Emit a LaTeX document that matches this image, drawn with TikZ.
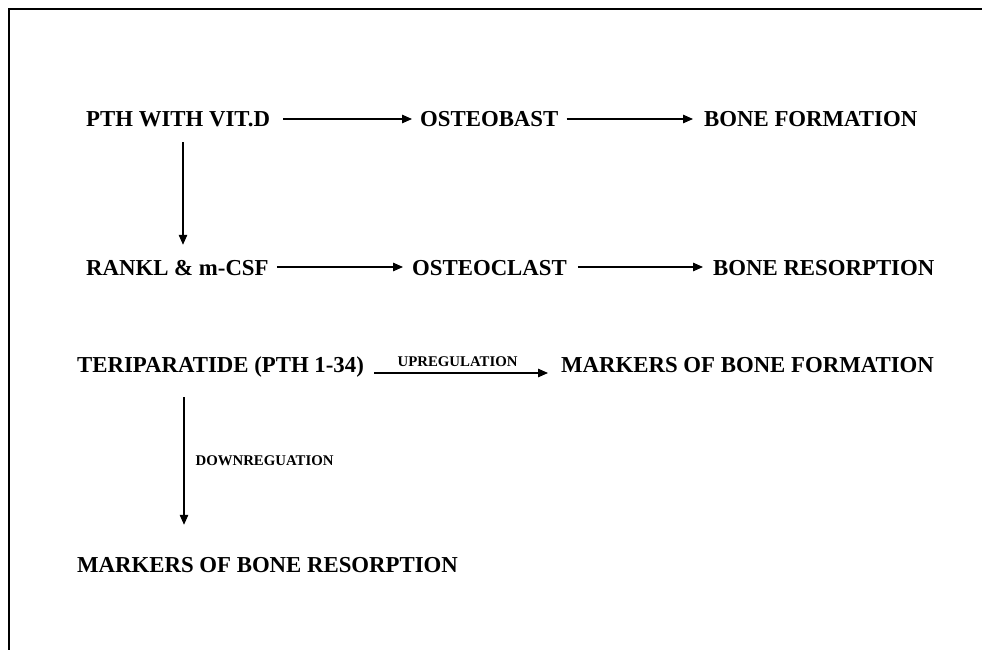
\documentclass[tikz,border=0pt]{standalone}
\usepackage{fontspec}
\setmainfont{Liberation Serif}
\usetikzlibrary{arrows.meta,calc}
\tikzset{
  lbl/.style={inner sep=0pt, anchor=base west, text height=16pt, text depth=0pt,
    font=\fontsize{22.8}{26}\selectfont\bfseries},
  small/.style={inner sep=0pt, font=\fontsize{14.8}{17}\selectfont\bfseries},
  arr/.style={line width=1.2pt, -{Triangle[length=10pt,width=8.5pt]}}
}
\begin{document}
\begin{tikzpicture}[x=1pt,y=-1pt]
\useasboundingbox (0,0) rectangle (982,650);
\draw[line width=2.2pt] (9,651) -- (9,9) -- (983,9);

\node[lbl] (pth) at (86,127) {PTH WITH VIT.D};
\node[lbl] (ob) at (420,127) {OSTEOBAST};
\node[lbl] (bf) at (704,127) {BONE FORMATION};
\node[lbl] (rankl) at (86,275) {RANKL \& m-CSF};
\node[lbl] (oc) at (412,275) {OSTEOCLAST};
\node[lbl] (br) at (713,275) {BONE RESORPTION};
\node[lbl] (ter) at (77,372) {TERIPARATIDE (PTH 1-34)};
\node[lbl] (mbf) at (561,372) {MARKERS OF BONE FORMATION};
\node[lbl] (mbr) at (77,572) {MARKERS OF BONE RESORPTION};

\draw[arr] ([xshift=13pt]pth.east) -- ([xshift=-8pt]ob.west);
\draw[arr] ([xshift=8pt]ob.east) -- ([xshift=-11pt]bf.west);
\draw[arr] ([xshift=8pt]rankl.east) -- ([xshift=-9pt]oc.west);
\draw[arr] ([xshift=11pt]oc.east) -- ([xshift=-10pt]br.west);
\draw[arr] ($(pth.south west)+(97,15)$) -- ($(rankl.north west)+(97,-14)$);
\draw[arr] ([xshift=10pt,yshift=-1pt]ter.base east) -- ([xshift=-13pt,yshift=-1pt]mbf.base west)
  node[small, pos=0.48, anchor=base, yshift=7pt] (up) {UPREGULATION};
\draw[arr] ($(ter.south west)+(107,25)$) -- ($(mbr.north west)+(107,-31)$)
  node[small, pos=0.5, anchor=west, xshift=11pt] (down) {DOWNREGUATION};
\end{tikzpicture}
\end{document}
